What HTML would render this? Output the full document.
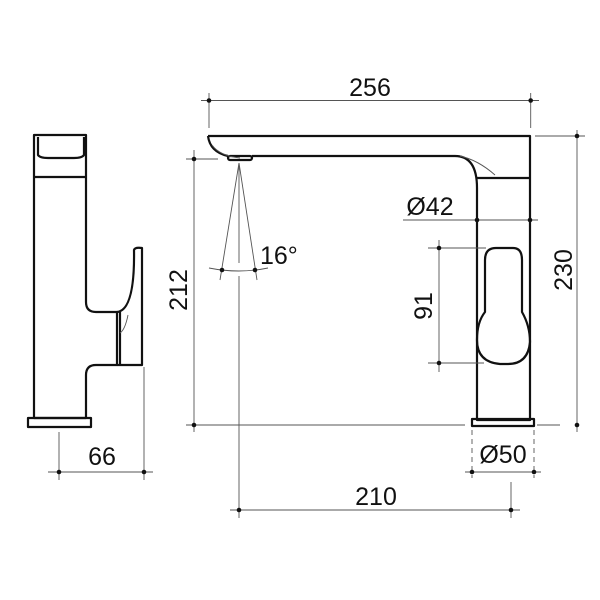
<!DOCTYPE html>
<html><head><style>body{margin:0;background:#fff}svg{display:block}text{font-family:"Liberation Sans",sans-serif;font-size:25px;fill:#111}</style></head><body>
<svg width="600" height="600" viewBox="0 0 600 600" xmlns="http://www.w3.org/2000/svg">
<g fill="none" stroke="#111" stroke-width="2.2" stroke-linejoin="round">
<!-- side view -->
<path d="M34,135 H86 V302 Q86,312 96,312 H117 V365 H96 Q86,365 86,375 V418 H34 Z"/>
<line x1="34" y1="177" x2="86" y2="177"/>
<path d="M38,137 V155 Q40,158 48,158 H74 Q82,158 84,155 V137"/>
<path d="M117,312 Q135,310 134,250 Q135,247 142,248 V365 H117"/>
<line x1="120" y1="312" x2="120" y2="365"/>
<rect x="28" y="418" width="63" height="9"/>
<!-- front view -->
<path d="M208,136 H530 V420 H477 V188 Q477,156 455,156 H252"/>
<path d="M208,136 Q210,152 228,156"/>
<rect x="228" y="156" width="24" height="4" rx="2"/>
<line x1="477" y1="178" x2="530" y2="178"/>
<path d="M496,248 H513 Q522,248 522,260 V312 Q530,326 530,342 Q528,364 508,364 H500 Q477,362 477,340 Q477,322 485,312 V260 Q485,248 496,248 Z"/>
<rect x="472" y="419" width="62" height="7"/>
</g>
<g fill="none" stroke="#555" stroke-width="0.9">
<path d="M212,145 Q220,156 240,158"/>
<path d="M460,156 Q478,160 495,175"/>
<path d="M128,315 Q125,330 120,333"/>
<line x1="201" y1="100.5" x2="539" y2="100.5"/><line x1="209" y1="93" x2="209" y2="128"/><line x1="530.7" y1="93" x2="530.7" y2="128"/>
<line x1="194" y1="150" x2="194" y2="432"/><line x1="186" y1="159" x2="218" y2="159"/>
<line x1="186" y1="425" x2="465" y2="425"/><line x1="537" y1="425" x2="560" y2="425"/>
<line x1="577" y1="130" x2="577" y2="432"/><line x1="535" y1="136" x2="585" y2="136"/>
<line x1="403" y1="220" x2="538" y2="220"/>
<line x1="439" y1="240" x2="439" y2="372"/><line x1="428" y1="248" x2="486" y2="248"/><line x1="428" y1="363" x2="484" y2="363"/>
<line x1="239" y1="163" x2="220" y2="280"/><line x1="239" y1="163" x2="257" y2="280"/>
<line x1="239" y1="163" x2="239" y2="263"/><line x1="239" y1="276" x2="239" y2="518"/>
<path d="M209,268 Q239,274 268,268"/>
<line x1="230" y1="510" x2="520" y2="510"/><line x1="511" y1="482" x2="511" y2="518"/>
<line x1="465" y1="472" x2="541" y2="472"/><line x1="472" y1="430" x2="472" y2="478" stroke-dasharray="5,4"/><line x1="534" y1="430" x2="534" y2="478" stroke-dasharray="5,4"/>
<line x1="48" y1="472" x2="153" y2="472"/><line x1="59" y1="432" x2="59" y2="480"/><line x1="144" y1="367" x2="144" y2="480"/>
</g>
<g fill="#111">
<circle cx="209" cy="100.5" r="2.3"/><circle cx="530.7" cy="100.5" r="2.3"/>
<circle cx="194" cy="159" r="2.3"/><circle cx="194" cy="425" r="2.3"/>
<circle cx="577" cy="136" r="2.3"/><circle cx="577" cy="425" r="2.3"/>
<circle cx="477" cy="220" r="2.3"/><circle cx="530" cy="220" r="2.3"/>
<circle cx="439" cy="248" r="2.3"/><circle cx="439" cy="363" r="2.3"/>
<circle cx="222" cy="270" r="2.3"/><circle cx="255" cy="270" r="2.3"/>
<circle cx="239" cy="510" r="2.3"/><circle cx="511" cy="510" r="2.3"/>
<circle cx="472" cy="472" r="2.3"/><circle cx="534" cy="472" r="2.3"/>
<circle cx="59" cy="472" r="2.3"/><circle cx="144" cy="472" r="2.3"/>
</g>
<text x="370" y="96" text-anchor="middle">256</text>
<text x="430" y="215" text-anchor="middle">Ø42</text>
<text x="260" y="264">16°</text>
<text x="376" y="505" text-anchor="middle">210</text>
<text x="503" y="463" text-anchor="middle">Ø50</text>
<text x="102" y="465" text-anchor="middle">66</text>
<text transform="translate(187,290) rotate(-90)" text-anchor="middle">212</text>
<text transform="translate(432,306) rotate(-90)" text-anchor="middle">91</text>
<text transform="translate(572,270) rotate(-90)" text-anchor="middle">230</text>
</svg>
</body></html>
